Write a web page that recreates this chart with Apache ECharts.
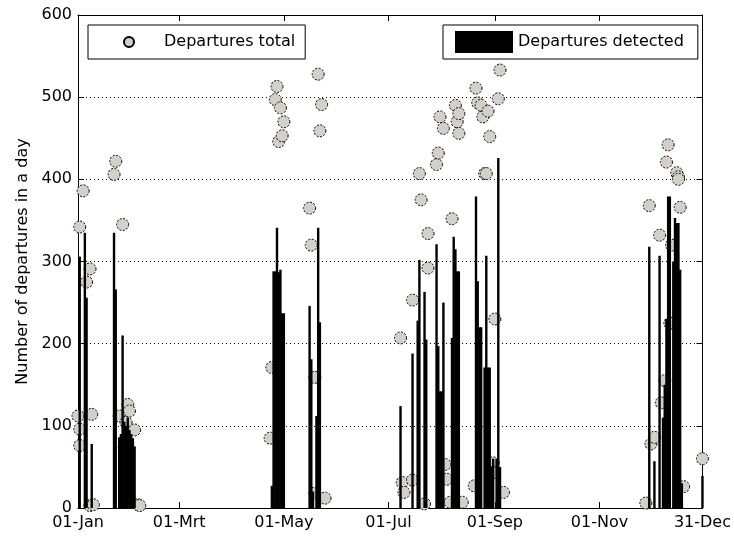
<!DOCTYPE html>
<html>
<head>
<meta charset="utf-8">
<script src="https://cdn.jsdelivr.net/npm/echarts@6/dist/echarts.min.js"></script>
<style>html,body{margin:0;padding:0;background:#fff}#c{width:734px;height:538px}</style>
</head>
<body>
<div id="c"></div>
<script>
// x axis: day of year (0 = 01-Jan, 364 = 31-Dec)
const tickDays = [0, 59, 120, 181, 243, 304, 364];
const tickLabels = ['01-Jan', '01-Mrt', '01-May', '01-Jul', '01-Sep', '01-Nov', '31-Dec'];

// Departures detected (bars)
const barDays = [1, 4, 5, 8,
  21, 22, 24, 25, 26, 27, 28, 29, 30, 31, 32, 33,
  113, 114, 115, 116, 117, 118, 119, 120,
  135, 136, 137, 139, 140, 141,
  188, 195, 198, 199, 202, 203, 209, 210, 211, 212, 213, 218, 219, 220, 221, 222,
  232, 233, 234, 235, 237, 238, 239, 240, 241, 242, 244, 245, 246,
  333, 336, 339, 341, 342, 343, 344, 345, 347, 348, 349, 350, 351, 352, 364];
const barValues = [306, 335, 256, 78,
  335, 266, 86, 90, 210, 105, 100, 110, 95, 90, 85, 75,
  27, 288, 288, 341, 287, 290, 237, 237,
  246, 181, 20, 112, 341, 226,
  124, 188, 228, 302, 263, 205, 321, 197, 142, 142, 250, 207, 330, 315, 288, 288,
  379, 276, 220, 220, 171, 307, 171, 171, 50, 60, 60, 426, 50,
  318, 57, 307, 110, 150, 230, 379, 379, 300, 353, 347, 347, 290, 30, 39];

// Departures total (points)
const ptDays = [0, 1, 1, 1, 3, 5, 7, 8, 7, 9,
  21, 22, 26, 29, 30, 24, 28, 33, 27, 35, 36,
  112, 113, 115, 116, 117, 118, 119, 120, 135, 136, 138, 138, 140, 141, 142, 144,
  188, 189, 190, 195, 195, 199, 200, 202, 204, 204, 209, 210, 211, 213, 214, 215, 217, 218,
  220, 221, 222, 222, 224, 231, 232, 233, 235, 236, 237, 238, 239, 240, 242, 242, 243, 245, 246, 248,
  331, 334, 333, 336, 339, 340, 342, 343, 344, 345, 346, 349, 350, 350, 351, 353, 364];
const ptValues = [112, 96, 76, 342, 386, 275, 291, 114, 3, 4,
  406, 422, 345, 126, 118, 112, 104, 95, 74, 4, 3,
  85, 171, 497, 513, 446, 487, 453, 470, 365, 320, 159, 18, 528, 459, 491, 12,
  207, 31, 19, 253, 34, 407, 375, 5, 334, 292, 418, 432, 476, 462, 53, 35, 7, 352,
  490, 470, 480, 456, 7, 27, 511, 493, 490, 476, 407, 407, 483, 452, 55, 43, 230, 498, 533, 19,
  6, 78, 368, 86, 332, 128, 155, 421, 442, 225, 320, 408, 403, 400, 366, 26, 60];

const FONT = 'DejaVu Sans';
const barData = barDays.map((d, i) => [d, barValues[i]]);
const ptData = ptDays.map((d, i) => [d, ptValues[i]]);

const chart = echarts.init(document.getElementById('c'), null, {renderer: 'canvas'});
chart.setOption({
  backgroundColor: '#fff',
  animation: false,
  textStyle: {fontFamily: FONT},
  grid: {left: 78, right: 31, top: 15, bottom: 30},
  legend: [
    {
      data: ['Departures total'],
      left: 88, top: 25,
      orient: 'horizontal',
      padding: [6, 10, 6, 35],
      itemWidth: 60, itemHeight: 10,
      borderColor: '#000', borderWidth: 1, backgroundColor: '#fff',
      textStyle: {fontFamily: FONT, fontSize: 16, color: '#000', lineHeight: 22},
      selectedMode: false
    },
    {
      data: ['Departures detected'],
      left: 443, top: 25,
      padding: [6, 14, 6, 12],
      itemWidth: 58, itemHeight: 22,
      icon: 'rect',
      itemStyle: {borderWidth: 0},
      borderColor: '#000', borderWidth: 1, backgroundColor: '#fff',
      textStyle: {fontFamily: FONT, fontSize: 16, color: '#000', lineHeight: 22},
      selectedMode: false
    }
  ],
  xAxis: [
    {
      type: 'value', min: 0, max: 364, position: 'bottom',
      axisLine: {show: true, lineStyle: {color: '#000', width: 1}},
      axisTick: {show: true, inside: true, length: 6, customValues: tickDays, lineStyle: {color: '#000'}},
      axisLabel: {
        customValues: tickDays,
        formatter: v => tickLabels[tickDays.indexOf(v)] || '',
        fontFamily: FONT, fontSize: 16, color: '#000', margin: 7
      },
      splitLine: {show: false}
    },
    {
      type: 'value', min: 0, max: 364, position: 'top',
      axisLine: {show: true, onZero: false, lineStyle: {color: '#000', width: 1}},
      axisTick: {show: true, inside: true, length: 6, customValues: tickDays, lineStyle: {color: '#000'}},
      axisLabel: {show: false},
      splitLine: {show: false}
    }
  ],
  yAxis: [
    {
      type: 'value', min: 0, max: 600, interval: 100, position: 'left',
      name: 'Number of departures in a day',
      nameLocation: 'middle', nameGap: 45,
      nameTextStyle: {fontFamily: FONT, fontSize: 16, color: '#000'},
      axisLine: {show: true, lineStyle: {color: '#000', width: 1}},
      axisTick: {show: true, inside: true, length: 6, lineStyle: {color: '#000'}},
      axisLabel: {fontFamily: FONT, fontSize: 16, color: '#000', margin: 6},
      splitLine: {show: true, lineStyle: {color: '#000', type: [1, 3], width: 1}}
    },
    {
      type: 'value', min: 0, max: 600, interval: 100, position: 'right',
      axisLine: {show: true, onZero: false, lineStyle: {color: '#000', width: 1}},
      axisTick: {show: true, inside: true, length: 6, lineStyle: {color: '#000'}},
      axisLabel: {show: false},
      splitLine: {show: false}
    }
  ],
  series: [
    {
      name: 'Departures total',
      type: 'scatter',
      data: ptData,
      xAxisIndex: 0, yAxisIndex: 0,
      symbol: 'circle', symbolSize: 12,
      clip: false,
      z: 2,
      itemStyle: {color: '#d4d0c8', borderColor: '#000', borderWidth: 1, borderType: [2, 1.5], opacity: 1}
    },
    {
      name: 'Departures detected',
      type: 'bar',
      data: barData,
      xAxisIndex: 0, yAxisIndex: 0,
      barMinWidth: 2.4,
      z: 3,
      itemStyle: {color: '#000'}
    }
  ]
});
</script>
</body>
</html>
